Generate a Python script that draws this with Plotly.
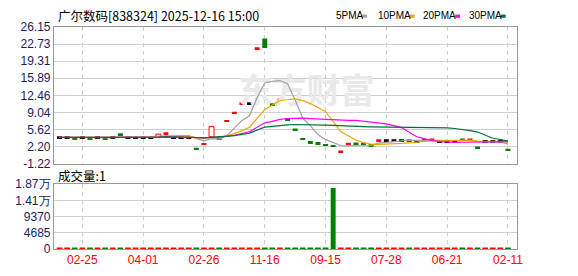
import plotly.graph_objects as go
import pandas as pd

W, H = 578, 276

# ---- data ----
opens = [4.05, 4.05, 3.79, 4.05, 3.79, 4.05, 3.85, 4.05, 4.68, 4.05,
         4.05, 4.05, 4.05, 4.24, 4.87, 4.10, 4.10, 4.10, 1.77, 2.72,
         4.17, 3.73, 7.34, 8.99, 10.89, 10.89, 21.91, 23.81, 10.70, 11.65,
         7.66, 5.63, 3.73, 3.10, 2.91, 2.53, 2.34, 1.20, 2.78, 2.80,
         2.78, 2.50, 3.48, 3.48, 3.48, 3.48, 3.48, 3.30, 3.50, 3.60,
         3.30, 3.30, 3.30, 3.60, 3.60, 2.02, 3.30, 3.30, 3.30, 1.58]
closes = [4.05, 4.05, 3.79, 4.05, 3.79, 4.05, 3.85, 4.05, 4.68, 4.05,
          4.05, 4.05, 4.05, 4.68, 4.87, 4.10, 4.10, 4.10, 1.77, 2.72,
          6.19, 3.73, 7.34, 8.99, 10.89, 10.89, 21.91, 21.91, 10.70, 11.65,
          7.66, 5.63, 3.73, 3.10, 2.91, 2.53, 2.34, 1.20, 2.78, 2.80,
          2.78, 2.50, 3.48, 3.48, 3.48, 3.48, 3.48, 3.30, 3.50, 3.60,
          3.30, 3.30, 3.30, 3.60, 3.60, 2.02, 3.30, 3.30, 3.30, 1.58]
# change vs previous close: 1 up (red), -1 down (green), 0 unchanged (black)
trend = [0, 0, -1, 0, -1, 0, -1, 0, -1, 0,
         0, 0, 0, 1, 1, 0, 0, 0, -1, 1,
         1, -1, 1, 1, 1, 0, 1, -1, -1, 1,
         -1, -1, -1, -1, -1, -1, -1, 1, 1, -1,
         -1, -1, 1, 0, 0, 0, -1, 0, 1, 1,
         0, 0, 0, -1, 1, -1, 0, 0, 0, -1]
volumes = [1] * 36 + [17650] + [1] * 23

tick_idx = [3, 11, 19, 27, 35, 43, 51, 59]
tick_labels = ["02-25", "04-01", "02-26", "11-16", "09-15", "07-28", "06-21", "02-11"]
price_ticks = [26.15, 22.73, 19.31, 15.89, 12.46, 9.04, 5.62, 2.20, -1.22]
vol_ticks = [0, 4685, 9370, 14055, 18740]
vol_tick_labels = ["0", "4685", "9370", "1.41万", "1.87万"]
ma_periods = [5, 10, 20, 30]
ma_names = ["5PMA", "10PMA", "20PMA", "30PMA"]
ma_colors = ["#a0a0a0", "#f5a300", "#ff00ff", "#00703a"]

RED, GREEN, BLACK = "#ff0000", "#008000", "#000000"
n = len(closes)
xs = list(range(n))

# ---- candle geometry (bars with base) ----
DASH = 0.38
base, height, fill, lcol, lw = [], [], [], [], []
for o, c, t in zip(opens, closes, trend):
    if c > o:
        base.append(o); height.append(c - o); fill.append("white"); lcol.append(RED); lw.append(1)
    elif c < o:
        base.append(c); height.append(o - c); fill.append(GREEN); lcol.append(GREEN); lw.append(0)
    else:
        col = RED if t > 0 else (GREEN if t < 0 else BLACK)
        base.append(c - DASH / 2); height.append(DASH); fill.append(col); lcol.append(col); lw.append(0)

vcol = []
for o, c, t in zip(opens, closes, trend):
    if c > o or (c == o and t >= 0):
        vcol.append(RED)
    else:
        vcol.append(GREEN)
vmax = max(volumes)
vwidth = [0.65 if v > vmax * 0.01 else 0.36 for v in volumes]
vlw = [0 if v > vmax * 0.01 else 3 for v in volumes]

fig = go.Figure()

# watermark (behind everything)
fig.add_trace(go.Scatter(x=[32.5], y=[12.7], mode="text", text=["<b>东方财富</b>"],
                         textfont=dict(size=34, color="#e9e9e9", family="Noto Sans CJK SC"),
                         hoverinfo="skip", showlegend=False, xaxis="x", yaxis="y"))

fig.add_trace(go.Bar(x=xs, y=height, base=base, width=0.65,
                     marker=dict(color=fill, line=dict(color=lcol, width=lw)),
                     showlegend=False, xaxis="x", yaxis="y"))

s = pd.Series(closes)
for p, name, col in zip(ma_periods, ma_names, ma_colors):
    ma = s.rolling(p, min_periods=1).mean()
    fig.add_trace(go.Scatter(x=xs, y=ma, mode="lines", name=name,
                             line=dict(color=col, width=1.2), showlegend=False,
                             xaxis="x", yaxis="y"))

fig.add_trace(go.Bar(x=xs, y=volumes, width=vwidth,
                     marker=dict(color=vcol, line=dict(color=vcol, width=vlw)),
                     showlegend=False, xaxis="x2", yaxis="y2"))

x0, x1 = 54.5 / W, 522.5 / W
py0, py1 = 1 - 165 / H, 1 - 21 / H
vy0, vy1 = 1 - 255 / H, 1 - 186.7 / H
TICKFONT = dict(family="Liberation Sans", size=12, color="#1c1c5a")

common_x = dict(domain=[x0, x1], range=[-0.74, 60.2], tickvals=tick_idx,
                showgrid=True, gridcolor="#cfcfcf", griddash="4px,4px", gridwidth=1,
                showline=True, mirror=True, linecolor="#999999", linewidth=1,
                zeroline=False, ticks="", fixedrange=True)
common_y = dict(showgrid=True, gridcolor="#cfcfcf", gridwidth=1,
                showline=True, mirror=True, linecolor="#999999", linewidth=1,
                zeroline=False, ticks="", tickfont=TICKFONT, fixedrange=True)

fig.update_layout(
    width=W, height=H, margin=dict(l=0, r=0, t=0, b=0),
    paper_bgcolor="white", plot_bgcolor="white", barmode="overlay",
    xaxis=dict(**common_x, anchor="y", showticklabels=False),
    yaxis=dict(**common_y, domain=[py0, py1], range=[-1.22, 26.15], anchor="x",
               tickvals=price_ticks, ticktext=["%.2f" % v for v in price_ticks]),
    xaxis2=dict(**common_x, anchor="y2", matches="x", ticktext=tick_labels,
                tickfont=dict(family="Liberation Sans", size=12, color="#ff0000")),
    yaxis2=dict(**common_y, domain=[vy0, vy1], range=[0, 18740], anchor="x2",
                tickvals=vol_ticks, ticktext=vol_tick_labels),
    font=dict(family="Noto Sans CJK SC", size=12, color="black"),
)

anns = [
    dict(text="广尔数码[838324] 2025-12-16 15:00", x=57 / W, y=1 - 8.5 / H,
         font=dict(size=12.5, family="Noto Sans CJK SC", color="black")),
    dict(text="成交量:1", x=57 / W, y=1 - 177 / H,
         font=dict(size=12.5, family="Noto Sans CJK SC", color="black")),
]
leg_x = [338, 380, 425, 472]
sq_x = [366, 414, 460, 506]
for name, lx in zip(ma_names, leg_x):
    anns.append(dict(text=name, x=lx / W, y=1 - 9.2 / H,
                     font=dict(size=10, family="Liberation Sans", color="black")))
for a in anns:
    a.update(xref="paper", yref="paper", xanchor="left", yanchor="middle", showarrow=False)
fig.update_layout(annotations=anns)

shapes = []
for sx, col in zip(sq_x, ma_colors):
    shapes.append(dict(type="rect", xref="paper", yref="paper",
                       x0=sx / W, x1=(sx + 5) / W, y0=1 - 11.3 / H, y1=1 - 8.0 / H,
                       fillcolor=col, line=dict(width=0)))
fig.update_layout(shapes=shapes)

fig.write_html("out.html")
